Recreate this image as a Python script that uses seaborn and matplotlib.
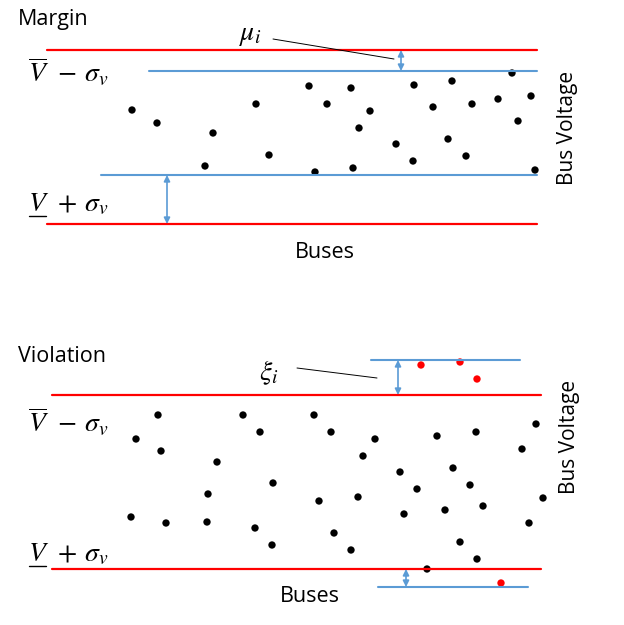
import matplotlib
matplotlib.use('Agg')
import matplotlib.pyplot as plt
import seaborn as sns
import pandas as pd

# everything is in picture pixel coordinates (y grows downward)
margin_x = [132, 157, 213, 256, 269, 205, 309, 327, 351, 370, 359, 396, 414, 413, 433,
            452, 448, 466, 472, 498, 512, 531, 518, 535, 315, 353]
margin_y = [110, 123, 133, 104, 155, 166, 86, 104, 88, 111, 128, 144, 85, 161, 107,
            81, 139, 156, 104, 99, 73, 96, 121, 170, 172, 168]

viol_x = [158, 136, 161, 243, 260, 217, 273, 208, 131, 166, 207, 255, 272, 314, 331,
          375, 363, 400, 417, 319, 358, 404, 334, 351, 437, 476, 453, 470, 445, 483,
          460, 477, 427, 522, 536, 543, 529]
viol_y = [415, 439, 451, 415, 432, 462, 483, 494, 517, 523, 522, 528, 545, 415, 432,
          439, 456, 472, 489, 501, 497, 514, 533, 550, 436, 432, 468, 485, 510, 506,
          542, 559, 569, 449, 424, 498, 523]

red_x = [421, 460, 477, 501]
red_y = [365, 362, 379, 583]

# horizontal limits: (y, x_start, x_end)
red_lines = [(50, 47, 537), (224, 47, 537), (395, 52, 541), (569, 52, 541)]
blue_lines = [(71, 149, 537), (175, 101, 537), (360, 371, 520), (587, 378, 528)]
# double arrows: (x, y_top, y_bottom)
arrows = [(401, 50, 71), (167, 175, 224), (398, 360, 395), (406, 569, 587)]
leaders = [((273, 39), (394, 59)), ((297, 368), (377, 378))]

RED = '#FF0000'
BLUE = '#5B9BD5'

sns.set_style('white')
plt.rcParams['font.family'] = ['Open Sans', 'DejaVu Sans']
plt.rcParams['mathtext.fontset'] = 'stix'
plt.rcParams['text.color'] = 'black'

fig = plt.figure(figsize=(6.24, 6.25), dpi=100)
ax = fig.add_axes([0, 0, 1, 1])

for y, x0, x1 in red_lines:
    ax.plot([x0, x1], [y, y], color=RED, lw=1.6)
for y, x0, x1 in blue_lines:
    ax.plot([x0, x1], [y, y], color=BLUE, lw=1.5)
for x, y0, y1 in arrows:
    ax.annotate('', xy=(x, y0), xytext=(x, y1),
                arrowprops=dict(arrowstyle='<|-|>', color=BLUE, lw=1.2,
                                mutation_scale=9, shrinkA=0, shrinkB=0))
for (x0, y0), (x1, y1) in leaders:
    ax.plot([x0, x1], [y0, y1], color='black', lw=0.7)

dots = pd.DataFrame({'x': margin_x + viol_x, 'y': margin_y + viol_y})
sns.scatterplot(data=dots, x='x', y='y', color='black', s=28, edgecolor='none', ax=ax)
sns.scatterplot(x=red_x, y=red_y, color=RED, s=28, edgecolor='none', ax=ax)
ax.set_xlim(0, 624)
ax.set_ylim(625, 0)
ax.axis('off')

ax.text(18, 19, 'Margin', fontsize=15.5, va='center', ha='left')
ax.text(18, 356, 'Violation', fontsize=15.5, va='center', ha='left')
ax.text(250, 34, r'$\mu_i$', fontsize=20, va='center', ha='center')
ax.text(269, 373, r'$\xi_i$', fontsize=20, va='center', ha='center')
for yv in (73, 423):
    ax.text(28, yv, r'$\overline{V}\;\,-\,\sigma_v$', fontsize=20, va='center', ha='left')
for yv, yu in ((204, 216), (554, 566)):
    ax.text(28, yv, r'$V\;\,+\,\sigma_v$', fontsize=20, va='center', ha='left')
    ax.plot([29, 46], [yu, yu], color='black', lw=1.0)
ax.text(325, 252, 'Buses', fontsize=15.5, va='center', ha='center')
ax.text(310, 597, 'Buses', fontsize=15.5, va='center', ha='center')
ax.text(568, 128, 'Bus Voltage', fontsize=15, va='center', ha='center', rotation=90)
ax.text(570, 437, 'Bus Voltage', fontsize=15, va='center', ha='center', rotation=90)

fig.savefig('out.png', dpi=100)
